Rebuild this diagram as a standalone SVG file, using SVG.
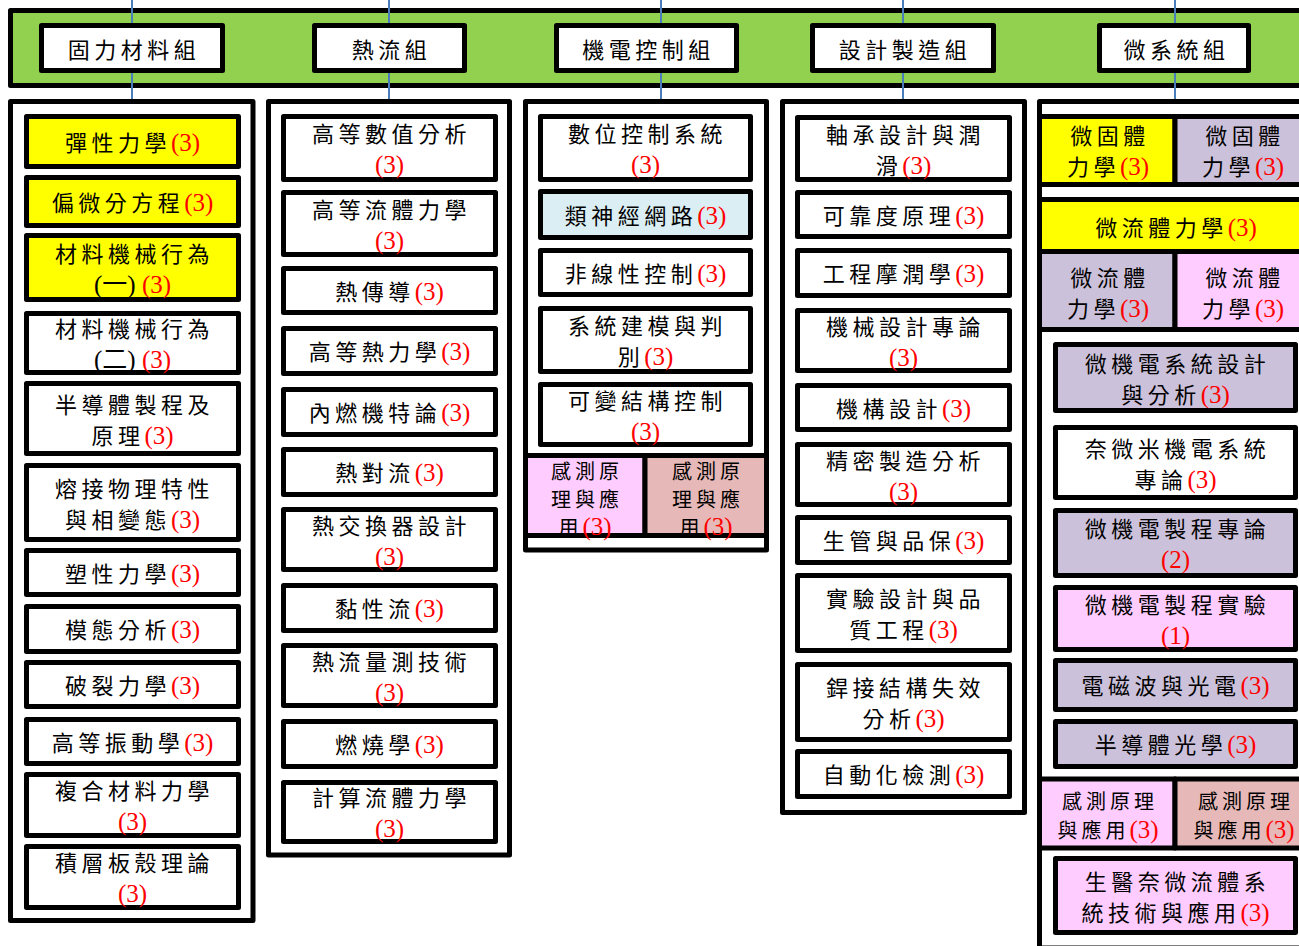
<svg xmlns="http://www.w3.org/2000/svg" width="1299" height="946" viewBox="0 0 1299 946">
<style>
.bx{stroke:#000;stroke-width:5;stroke-linejoin:round}
.w{fill:#fff}.y{fill:#ff0}.lb{fill:#dbeef4}.lv{fill:#ccc1da}.pk{fill:#fcf}.rs{fill:#e6b9b8}.g{fill:#92d050}
.t{font-family:"Noto Sans CJK TC","Noto Sans CJK SC",sans-serif;font-size:22px;letter-spacing:4.5px;text-anchor:middle;fill:#000}
.s{font-size:20px;letter-spacing:4px}
.n{font-family:"Liberation Serif","Times New Roman",serif;font-size:25px;letter-spacing:0;fill:#f00}
.p{font-family:"Liberation Serif","Noto Sans CJK TC",serif;font-size:25px;letter-spacing:0;fill:#000}
.c{stroke:#4a7ebb;stroke-width:2;fill:none}
</style>
<rect width="1299" height="946" fill="#fff"/>
<g id="bar"><rect class="bx g" x="10.5" y="10.5" width="1300" height="75"/></g>
<g id="connectors">
<path class="c" d="M132 0V26M132 72V100M389 0V26M389 72V100M661 0V26M661 72V100M903 0V26M903 72V100M1175 0V26M1175 72V100"/>
</g>
<g id="headers">
<g id="h1"><rect class="bx w" x="41.5" y="25.5" width="181" height="45"/><text class="t" x="134" y="58">固力材料組</text></g>
<g id="h2"><rect class="bx w" x="314.5" y="25.5" width="150" height="45"/><text class="t" x="391.5" y="58">熱流組</text></g>
<g id="h3"><rect class="bx w" x="556.5" y="25.5" width="180" height="45"/><text class="t" x="648.5" y="58">機電控制組</text></g>
<g id="h4"><rect class="bx w" x="812.5" y="25.5" width="181" height="45"/><text class="t" x="905" y="58">設計製造組</text></g>
<g id="h5"><rect class="bx w" x="1099.5" y="25.5" width="149" height="45"/><text class="t" x="1176.5" y="58">微系統組</text></g>
</g>
<g id="col1">
<rect class="bx w" x="10.5" y="101.5" width="242.5" height="819"/>
<g id="c1a"><rect class="bx y" x="26.5" y="116.5" width="212" height="50"/><text class="t" x="132.5" y="150.5">彈性力學<tspan class="n">(3)</tspan></text></g>
<g id="c1b"><rect class="bx y" x="26.5" y="177.5" width="212" height="48"/><text class="t" x="132.5" y="210.5">偏微分方程<tspan class="n">(3)</tspan></text></g>
<g id="c1c"><rect class="bx y" x="26.5" y="235.5" width="212" height="64"/><text class="t" x="134.5" y="261.5">材料機械行為</text><text class="t" x="132.5" y="292.5"><tspan class="p">(一) </tspan><tspan class="n">(3)</tspan></text></g>
<g id="c1d"><rect class="bx w" x="26.5" y="313.5" width="212" height="59"/><text class="t" x="134.5" y="337">材料機械行為</text><text class="t" x="132.5" y="368"><tspan class="p">(二) </tspan><tspan class="n">(3)</tspan></text></g>
<g id="c1e"><rect class="bx w" x="26.5" y="383.5" width="212" height="70"/><text class="t" x="134.5" y="412.5">半導體製程及</text><text class="t" x="132.5" y="443.5">原理<tspan class="n">(3)</tspan></text></g>
<g id="c1f"><rect class="bx w" x="26.5" y="465.5" width="212" height="74"/><text class="t" x="134.5" y="496.5">熔接物理特性</text><text class="t" x="132.5" y="527.5">與相變態<tspan class="n">(3)</tspan></text></g>
<g id="c1g"><rect class="bx w" x="26.5" y="550.5" width="212" height="44"/><text class="t" x="132.5" y="581.5">塑性力學<tspan class="n">(3)</tspan></text></g>
<g id="c1h"><rect class="bx w" x="26.5" y="606.5" width="212" height="45"/><text class="t" x="132.5" y="638">模態分析<tspan class="n">(3)</tspan></text></g>
<g id="c1i"><rect class="bx w" x="26.5" y="662.5" width="212" height="44"/><text class="t" x="132.5" y="693.5">破裂力學<tspan class="n">(3)</tspan></text></g>
<g id="c1j"><rect class="bx w" x="26.5" y="719.5" width="212" height="44"/><text class="t" x="132.5" y="750.5">高等振動學<tspan class="n">(3)</tspan></text></g>
<g id="c1k"><rect class="bx w" x="26.5" y="774.5" width="212" height="61"/><text class="t" x="134.5" y="799">複合材料力學</text><text class="t" x="132.5" y="830"><tspan class="n">(3)</tspan></text></g>
<g id="c1l"><rect class="bx w" x="26.5" y="846.5" width="212" height="61"/><text class="t" x="134.5" y="871">積層板殼理論</text><text class="t" x="132.5" y="902"><tspan class="n">(3)</tspan></text></g>
</g>
<g id="col2">
<rect class="bx w" x="268.5" y="101.5" width="241" height="753.5"/>
<g id="c2a"><rect class="bx w" x="283.5" y="116.5" width="212" height="63"/><text class="t" x="391.5" y="142">高等數值分析</text><text class="t" x="389.5" y="173"><tspan class="n">(3)</tspan></text></g>
<g id="c2b"><rect class="bx w" x="283.5" y="192.5" width="212" height="62"/><text class="t" x="391.5" y="217.5">高等流體力學</text><text class="t" x="389.5" y="248.5"><tspan class="n">(3)</tspan></text></g>
<g id="c2c"><rect class="bx w" x="283.5" y="268.5" width="212" height="44"/><text class="t" x="389.5" y="299.5">熱傳導<tspan class="n">(3)</tspan></text></g>
<g id="c2d"><rect class="bx w" x="283.5" y="328.5" width="212" height="45"/><text class="t" x="389.5" y="360">高等熱力學<tspan class="n">(3)</tspan></text></g>
<g id="c2e"><rect class="bx w" x="283.5" y="389.5" width="212" height="45"/><text class="t" x="389.5" y="421">內燃機特論<tspan class="n">(3)</tspan></text></g>
<g id="c2f"><rect class="bx w" x="283.5" y="449.5" width="212" height="45"/><text class="t" x="389.5" y="481">熱對流<tspan class="n">(3)</tspan></text></g>
<g id="c2g"><rect class="bx w" x="283.5" y="509.5" width="212" height="60"/><text class="t" x="391.5" y="533.5">熱交換器設計</text><text class="t" x="389.5" y="564.5"><tspan class="n">(3)</tspan></text></g>
<g id="c2h"><rect class="bx w" x="283.5" y="585.5" width="212" height="45"/><text class="t" x="389.5" y="617">黏性流<tspan class="n">(3)</tspan></text></g>
<g id="c2i"><rect class="bx w" x="283.5" y="645.5" width="212" height="60"/><text class="t" x="391.5" y="669.5">熱流量測技術</text><text class="t" x="389.5" y="700.5"><tspan class="n">(3)</tspan></text></g>
<g id="c2j"><rect class="bx w" x="283.5" y="721.5" width="212" height="45"/><text class="t" x="389.5" y="753">燃燒學<tspan class="n">(3)</tspan></text></g>
<g id="c2k"><rect class="bx w" x="283.5" y="782.5" width="212" height="59"/><text class="t" x="391.5" y="806">計算流體力學</text><text class="t" x="389.5" y="837"><tspan class="n">(3)</tspan></text></g>
</g>
<g id="col3">
<rect class="bx w" x="525.5" y="101.5" width="241" height="448.5"/>
<g id="c3a"><rect class="bx w" x="540.5" y="116.5" width="210" height="63"/><text class="t" x="647.5" y="142">數位控制系統</text><text class="t" x="645.5" y="173"><tspan class="n">(3)</tspan></text></g>
<g id="c3b"><rect class="bx lb" x="540.5" y="191.5" width="210" height="46"/><text class="t" x="645.5" y="223.5">類神經網路<tspan class="n">(3)</tspan></text></g>
<g id="c3c"><rect class="bx w" x="540.5" y="250.5" width="210" height="44"/><text class="t" x="645.5" y="281.5">非線性控制<tspan class="n">(3)</tspan></text></g>
<g id="c3d"><rect class="bx w" x="540.5" y="308.5" width="210" height="63"/><text class="t" x="647.5" y="334">系統建模與判</text><text class="t" x="645.5" y="365">別<tspan class="n">(3)</tspan></text></g>
<g id="c3e"><rect class="bx w" x="540.5" y="384.5" width="210" height="60"/><text class="t" x="647.5" y="408.5">可變結構控制</text><text class="t" x="645.5" y="439.5"><tspan class="n">(3)</tspan></text></g>
<g id="c3f"><rect class="bx pk" x="525.5" y="455.5" width="119.5" height="80"/><text class="t s" x="587" y="479">感測原</text><text class="t s" x="587" y="507">理與應</text><text class="t s" x="585" y="535">用<tspan class="n">(3)</tspan></text></g>
<g id="c3g"><rect class="bx rs" x="645" y="455.5" width="121.5" height="80"/><text class="t s" x="708" y="479">感測原</text><text class="t s" x="708" y="507">理與應</text><text class="t s" x="706" y="535">用<tspan class="n">(3)</tspan></text></g>
</g>
<g id="col4">
<rect class="bx w" x="782.5" y="101.5" width="242" height="711"/>
<g id="c4a"><rect class="bx w" x="797.5" y="117.5" width="212" height="62"/><text class="t" x="905.5" y="142.5">軸承設計與潤</text><text class="t" x="903.5" y="173.5">滑<tspan class="n">(3)</tspan></text></g>
<g id="c4b"><rect class="bx w" x="797.5" y="192.5" width="212" height="44"/><text class="t" x="903.5" y="223.5">可靠度原理<tspan class="n">(3)</tspan></text></g>
<g id="c4c"><rect class="bx w" x="797.5" y="250.5" width="212" height="45"/><text class="t" x="903.5" y="282">工程摩潤學<tspan class="n">(3)</tspan></text></g>
<g id="c4d"><rect class="bx w" x="797.5" y="310.5" width="212" height="60"/><text class="t" x="905.5" y="334.5">機械設計專論</text><text class="t" x="903.5" y="365.5"><tspan class="n">(3)</tspan></text></g>
<g id="c4e"><rect class="bx w" x="797.5" y="385.5" width="212" height="44"/><text class="t" x="903.5" y="416.5">機構設計<tspan class="n">(3)</tspan></text></g>
<g id="c4f"><rect class="bx w" x="797.5" y="444.5" width="212" height="60"/><text class="t" x="905.5" y="468.5">精密製造分析</text><text class="t" x="903.5" y="499.5"><tspan class="n">(3)</tspan></text></g>
<g id="c4g"><rect class="bx w" x="797.5" y="517.5" width="212" height="45"/><text class="t" x="903.5" y="549">生管與品保<tspan class="n">(3)</tspan></text></g>
<g id="c4h"><rect class="bx w" x="797.5" y="575.5" width="212" height="75"/><text class="t" x="905.5" y="607">實驗設計與品</text><text class="t" x="903.5" y="638">質工程<tspan class="n">(3)</tspan></text></g>
<g id="c4i"><rect class="bx w" x="797.5" y="664.5" width="212" height="75"/><text class="t" x="905.5" y="696">銲接結構失效</text><text class="t" x="903.5" y="727">分析<tspan class="n">(3)</tspan></text></g>
<g id="c4j"><rect class="bx w" x="797.5" y="751.5" width="212" height="45"/><text class="t" x="903.5" y="783">自動化檢測<tspan class="n">(3)</tspan></text></g>
</g>
<g id="col5">
<rect class="bx w" x="1039.5" y="101.5" width="280" height="846.5"/>
<g id="c5a"><rect class="bx y" x="1039.5" y="116.5" width="135.5" height="68"/><text class="t" x="1110" y="144">微固體</text><text class="t" x="1108" y="175">力學<tspan class="n">(3)</tspan></text></g>
<g id="c5b"><rect class="bx lv" x="1175" y="116.5" width="140" height="68"/><text class="t" x="1245" y="144">微固體</text><text class="t" x="1243" y="175">力學<tspan class="n">(3)</tspan></text></g>
<g id="c5c"><rect class="bx y" x="1039.5" y="199.5" width="275.5" height="52"/><text class="t" x="1176" y="236">微流體力學<tspan class="n">(3)</tspan></text></g>
<g id="c5d"><rect class="bx lv" x="1039.5" y="251.5" width="135.5" height="78"/><text class="t" x="1110" y="285.5">微流體</text><text class="t" x="1108" y="317">力學<tspan class="n">(3)</tspan></text></g>
<g id="c5e"><rect class="bx pk" x="1175" y="251.5" width="140" height="78"/><text class="t" x="1245" y="285.5">微流體</text><text class="t" x="1243" y="317">力學<tspan class="n">(3)</tspan></text></g>
<g id="c5f"><rect class="bx lv" x="1055.5" y="344.5" width="240" height="66"/><text class="t" x="1177.5" y="371.5">微機電系統設計</text><text class="t" x="1175.5" y="402.5">與分析<tspan class="n">(3)</tspan></text></g>
<g id="c5g"><rect class="bx w" x="1055.5" y="427.5" width="240" height="70"/><text class="t" x="1177.5" y="456.5">奈微米機電系統</text><text class="t" x="1175.5" y="487.5">專論<tspan class="n">(3)</tspan></text></g>
<g id="c5h"><rect class="bx lv" x="1055.5" y="510.5" width="240" height="65"/><text class="t" x="1177.5" y="537">微機電製程專論</text><text class="t" x="1175.5" y="568"><tspan class="n">(2)</tspan></text></g>
<g id="c5i"><rect class="bx pk" x="1055.5" y="587.5" width="240" height="62"/><text class="t" x="1177.5" y="612.5">微機電製程實驗</text><text class="t" x="1175.5" y="643.5"><tspan class="n">(1)</tspan></text></g>
<g id="c5j"><rect class="bx lv" x="1055.5" y="660.5" width="240" height="49"/><text class="t" x="1175.5" y="694">電磁波與光電<tspan class="n">(3)</tspan></text></g>
<g id="c5k"><rect class="bx lv" x="1055.5" y="721.5" width="240" height="45"/><text class="t" x="1175.5" y="753">半導體光學<tspan class="n">(3)</tspan></text></g>
<g id="c5l"><rect class="bx pk" x="1039.5" y="779" width="135.5" height="69"/><text class="t s" x="1110" y="809">感測原理</text><text class="t s" x="1108" y="838">與應用<tspan class="n">(3)</tspan></text></g>
<g id="c5m"><rect class="bx rs" x="1175" y="779" width="140" height="69"/><text class="t s" x="1246" y="809">感測原理</text><text class="t s" x="1244" y="838">與應用<tspan class="n">(3)</tspan></text></g>
<g id="c5n"><rect class="bx pk" x="1055.5" y="858.5" width="240" height="74"/><text class="t" x="1177.5" y="889.5">生醫奈微流體系</text><text class="t" x="1175.5" y="920.5">統技術與應用<tspan class="n">(3)</tspan></text></g>
</g>
</svg>
